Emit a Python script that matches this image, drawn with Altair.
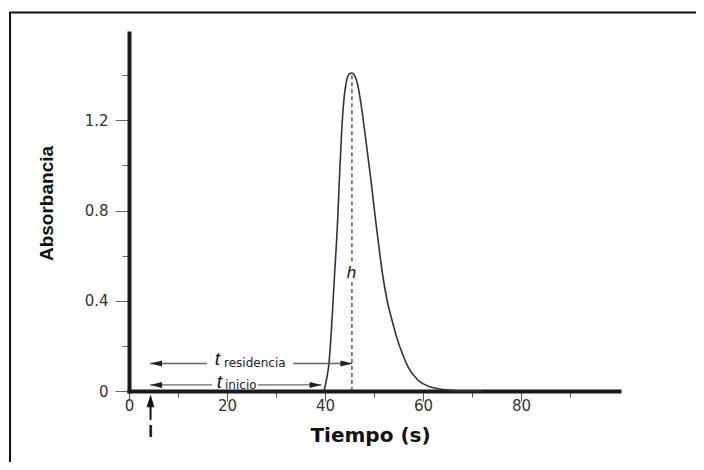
import altair as alt
import pandas as pd

# ---- data ----
tiempo = [39.8, 40.3, 40.8, 41.3, 41.7, 42.1, 42.5, 42.9, 43.4, 43.9, 44.4, 44.9, 45.5,
          46.0, 46.6, 47.3, 48.0, 48.7, 49.4, 50.2, 51.0, 51.8, 52.6, 53.6, 54.6, 55.8,
          57.0, 58.9, 61.4, 64.8, 68.0, 72.0]
absorbancia = [0.0, 0.05, 0.12, 0.27, 0.42, 0.57, 0.72, 0.92, 1.15, 1.30, 1.375, 1.405, 1.41,
               1.40, 1.365, 1.28, 1.17, 1.05, 0.93, 0.78, 0.64, 0.51, 0.41, 0.32, 0.24, 0.165,
               0.105, 0.05, 0.019, 0.005, 0.0, 0.0]

x_ticks = [0, 10, 20, 30, 40, 50, 60, 70, 80, 90]
y_ticks = [0, 0.2, 0.4, 0.6, 0.8, 1.0, 1.2, 1.4]

# horizontal arrows (t_residencia, t_inicio), split around their labels
seg_t1 = [4.3, 33.5, 4.3, 26.3]
seg_t2 = [15.9, 45.5, 16.9, 39.3]
seg_a = [0.122, 0.122, 0.027, 0.027]
head_left_t = [4.3, 4.3]
head_right_t = [45.6, 39.3]
head_a = [0.122, 0.027]

# peak height line (split around "h")
h_t = [45.5, 45.5]
h_a1 = [0.0, 0.575]
h_a2 = [0.49, 1.41]

# labels
t_label_t = [17.5, 17.9]
t_label_a = [0.115, 0.013]
sub_label_t = [19.4, 19.6]
sub_label_a = [0.106, 0.009]
sub_labels = ["residencia", "inicio"]
h_label = ["h"]
h_label_t = [45.4]
h_label_a = [0.50]

# injection marker
inj_t = [4.4]
inj_tip = [-0.016]
inj_shaft1 = [-0.05]
inj_shaft2 = [-0.128]
inj_label_a = [-0.205]
inj_label = ["I"]

# ---- tables ----
curve_df = pd.DataFrame({"t": tiempo, "A": absorbancia})
seg_df = pd.DataFrame({"t": seg_t1, "t2": seg_t2, "A": seg_a})
hl_df = pd.DataFrame({"t": head_left_t, "A": head_a})
hr_df = pd.DataFrame({"t": head_right_t, "A": head_a})
hline_df = pd.DataFrame({"t": h_t, "A": h_a1, "A2": h_a2})
tlab_df = pd.DataFrame({"t": t_label_t, "A": t_label_a, "txt": ["t", "t"]})
sub_df = pd.DataFrame({"t": sub_label_t, "A": sub_label_a, "txt": sub_labels})
h_df = pd.DataFrame({"t": h_label_t, "A": h_label_a, "txt": h_label})
inj_df = pd.DataFrame({"t": inj_t, "A": inj_tip, "s1": inj_shaft1, "s2": inj_shaft2,
                       "la": inj_label_a, "txt": inj_label})
one = pd.DataFrame({"k": [0]})

x_scale = alt.Scale(domain=[0, 100], nice=False, zero=False)
y_scale = alt.Scale(domain=[0, 1.587], nice=False)

x_axis = alt.Axis(
    values=x_ticks, title="Tiempo (s)", grid=False,
    labelExpr="datum.value % 20 === 0 ? datum.label : ''",
    tickSize={"condition": {"test": "datum.value % 20 === 0", "value": 10}, "value": 6},
    tickColor="#555", tickWidth=1,
    domainColor="#1a1a1a", domainWidth=4, domainCap="square",
    labelFont="DejaVu Sans", labelFontSize=15, labelColor="#333", labelPadding=-3,
    labelOverlap=False, labelFlush=False,
    titleFont="DejaVu Sans", titleFontSize=20, titleFontWeight="bold", titleColor="#111",
    titleX=241, titleY=44, titleAlign="center", titleBaseline="middle",
)
y_axis = alt.Axis(
    values=y_ticks, title="Absorbancia", grid=False,
    labelExpr="indexof([0.4, 0.8, 1.2], datum.value) >= 0 ? format(datum.value, '.1f') : (datum.value === 0 ? '0' : '')",
    tickSize={"condition": {"test": "indexof([0, 0.4, 0.8, 1.2], datum.value) >= 0", "value": 14}, "value": 7},
    tickColor="#666", tickWidth=1,
    domainColor="#1a1a1a", domainWidth=4, domainCap="square",
    labelFont="DejaVu Sans", labelFontSize=15, labelColor="#333", labelPadding=7,
    labelOverlap=False, labelFlush=False,
    titleFont="Liberation Sans", titleFontSize=19, titleFontWeight="bold", titleColor="#111",
    titleX=-83, titleY=170, titleAlign="center", titleBaseline="middle", titleAngle=270,
)


def X():
    return alt.X("t:Q", scale=x_scale, axis=x_axis)


def Y(f="A"):
    return alt.Y(f + ":Q", scale=y_scale, axis=y_axis)


frame = alt.Chart(one).mark_rect(fillOpacity=0, stroke="#111", strokeWidth=2).encode(
    x=alt.value(-119), x2=alt.value(900), y=alt.value(-20.5), y2=alt.value(900))

curve = alt.Chart(curve_df).mark_line(color="#333", strokeWidth=1.6, interpolate="monotone").encode(
    x=X(), y=Y())

segs = alt.Chart(seg_df).mark_rule(color="#666", strokeWidth=1.3).encode(
    x=X(), x2="t2:Q", y=Y())

LEFT = "M0,0L2,-0.5L2,0.5Z"
RIGHT = "M0,0L-2,-0.5L-2,0.5Z"
UP = "M0,0L-0.65,2.1L0.65,2.1Z"

heads_l = alt.Chart(hl_df).mark_point(shape=LEFT, filled=True, size=144, color="#222",
                                      opacity=1, strokeWidth=0).encode(x=X(), y=Y())
heads_r = alt.Chart(hr_df).mark_point(shape=RIGHT, filled=True, size=144, color="#222",
                                      opacity=1, strokeWidth=0).encode(x=X(), y=Y())

hline = alt.Chart(hline_df).mark_rule(color="#222", strokeWidth=1.1, strokeDash=[4, 3]).encode(
    x=X(), y=Y(), y2="A2:Q")

tlab = alt.Chart(tlab_df).mark_text(font="Liberation Sans", fontStyle="italic", fontSize=19,
                                    align="left", baseline="alphabetic", color="#111").encode(
    x=X(), y=Y(), text="txt:N")
sub = alt.Chart(sub_df).mark_text(font="DejaVu Sans", fontSize=12, align="left",
                                  baseline="alphabetic", color="#222").encode(
    x=X(), y=Y(), text="txt:N")
hlab = alt.Chart(h_df).mark_text(font="Liberation Sans", fontStyle="italic", fontSize=17,
                                 align="center", baseline="alphabetic", color="#111").encode(
    x=X(), y=Y(), text="txt:N")

inj_shaft = alt.Chart(inj_df).mark_rule(color="#111", strokeWidth=2).encode(
    x=X(), y=Y("s1"), y2="s2:Q")
inj_head = alt.Chart(inj_df).mark_point(shape=UP, filled=True, size=144, color="#111",
                                        opacity=1, strokeWidth=0).encode(x=X(), y=Y())
inj_lab = alt.Chart(inj_df).mark_text(font="Liberation Sans", fontWeight="bold", fontSize=17,
                                      align="center", baseline="alphabetic", color="#111").encode(
    x=X(), y=Y("la"), text="txt:N")

chart = alt.layer(
    frame, curve, segs, heads_l, heads_r, hline, tlab, sub, hlab, inj_shaft, inj_head, inj_lab
).properties(
    width=490, height=358,
    autosize=alt.AutoSizeParams(type="none"),
    padding={"left": 121, "top": 25, "right": 77, "bottom": 71},
    background="white",
).configure_view(stroke="transparent")

chart.save("out.html", embed_options={"renderer": "svg", "actions": False})
